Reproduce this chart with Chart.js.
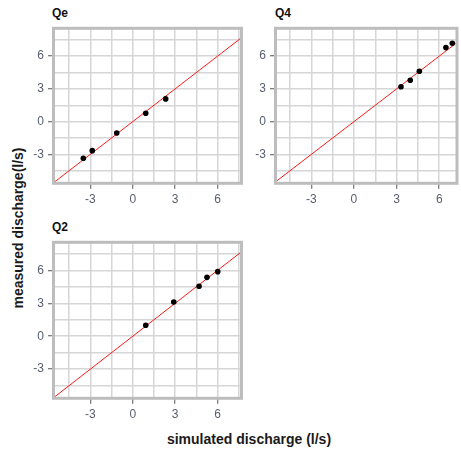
<!DOCTYPE html>
<html><head><meta charset="utf-8">
<script src="https://cdn.jsdelivr.net/npm/chart.js@4.4.0/dist/chart.umd.min.js"></script>
<style>
body{margin:0;background:#fff;width:461px;height:452px;overflow:hidden;position:relative;font-family:"Liberation Sans",Arial,sans-serif;}
canvas{position:absolute;}
.ptitle{position:absolute;font-weight:bold;font-size:12px;line-height:12px;color:#111;}
.axtitle{position:absolute;font-weight:bold;font-size:14px;line-height:14px;color:#1a1a1a;white-space:nowrap;}
</style></head><body>
<div class="ptitle" style="left:52px;top:7px">Qe</div>
<div class="ptitle" style="left:275px;top:7px">Q4</div>
<div class="ptitle" style="left:52px;top:221px">Q2</div>
<div class="axtitle" style="left:249px;top:439px;transform:translate(-50%,-50%)">simulated discharge (l/s)</div>
<div class="axtitle" style="left:18px;top:228px;transform:translate(-50%,-50%) rotate(-90deg)">measured discharge(l/s)</div>
<canvas id="cQe" width="250" height="215" style="left:0;top:0"></canvas>
<canvas id="cQ4" width="231" height="215" style="left:230px;top:0"></canvas>
<canvas id="cQ2" width="250" height="220" style="left:0;top:214px"></canvas>
<script>
const panelNames = ['Qe', 'Q4', 'Q2'];
const qeSimulated = [-3.49, -2.86, -1.13, 0.92, 2.33];
const qeMeasured  = [-3.35, -2.66, -1.04, 0.77, 2.08];
const q4Simulated = [3.31, 3.96, 4.60, 6.47, 6.92];
const q4Measured  = [3.20, 3.79, 4.62, 6.78, 7.18];
const q2Simulated = [0.92, 2.90, 4.69, 5.25, 6.01];
const q2Measured  = [1.00, 3.12, 4.55, 5.36, 5.88];
const gridTicks = [-4.5, -3, -1.5, 0, 1.5, 3, 4.5, 6, 7.5];
const labelledTicks = [-3, 0, 3, 6];
const identityLine = [-10, 10];

const FONT = "'Liberation Sans', Arial, sans-serif";
const TICK_COLOR = '#5a6070';

const framePlugin = {
  id: 'frame',
  afterDraw(chart) {
    const a = chart.chartArea, ctx = chart.ctx;
    ctx.save();
    ctx.strokeStyle = '#bdbdbd';
    ctx.lineWidth = 3;
    ctx.strokeRect(a.left, a.top, a.right - a.left, a.bottom - a.top);
    ctx.restore();
  }
};

function axis(min, max, fitFn) {
  return {
    type: 'linear', min: min, max: max,
    afterBuildTicks: s => { s.ticks = gridTicks.filter(v => v >= s.min && v <= s.max).map(v => ({value: v})); },
    afterFit: fitFn,
    border: {display: false},
    grid: {
      color: '#d6d6d6', lineWidth: 1.5, tickLength: 5.5,
      tickColor: c => (c.tick && labelledTicks.includes(c.tick.value)) ? '#555' : 'rgba(0,0,0,0)',
      tickWidth: 1
    },
    ticks: {
      autoSkip: false, maxRotation: 0, color: TICK_COLOR, padding: 4,
      font: {size: 12, family: FONT},
      callback: v => labelledTicks.includes(v) ? String(v) : ''
    }
  };
}

function makePanel(id, w, h, area, xr, yr, xs, ys) {
  const pts = xs.map((x, i) => ({x: x, y: ys[i]}));
  new Chart(document.getElementById(id), {
    type: 'scatter',
    data: {
      datasets: [
        {data: pts, backgroundColor: '#000', borderWidth: 0, pointRadius: 2.8},
        {data: identityLine.map(v => ({x: v, y: v})), showLine: true, borderColor: '#ff1a1a', borderWidth: 1, pointRadius: 0}
      ]
    },
    options: {
      responsive: false, animation: false,
      layout: {padding: {left: 0, top: area.t, right: w - area.r, bottom: 0}},
      plugins: {legend: {display: false}, tooltip: {enabled: false}},
      scales: {
        x: axis(xr[0], xr[1], s => { s.height = h - area.b; }),
        y: axis(yr[0], yr[1], s => { s.width = area.l; })
      }
    },
    plugins: [framePlugin]
  });
}

makePanel('cQe', 250, 215, {l: 53.5, t: 28.3, r: 241.5, b: 183.3}, [-5.6, 7.69], [-5.65, 8.55], qeSimulated, qeMeasured);
makePanel('cQ4', 231, 215, {l: 45.5, t: 28.3, r: 229.5, b: 183.3}, [-5.52, 7.25], [-5.65, 8.55], q4Simulated, q4Measured);
makePanel('cQ2', 250, 220, {l: 53.5, t: 28.3, r: 241.5, b: 184.3}, [-5.6, 7.69], [-5.65, 8.55], q2Simulated, q2Measured);
</script>
</body></html>
